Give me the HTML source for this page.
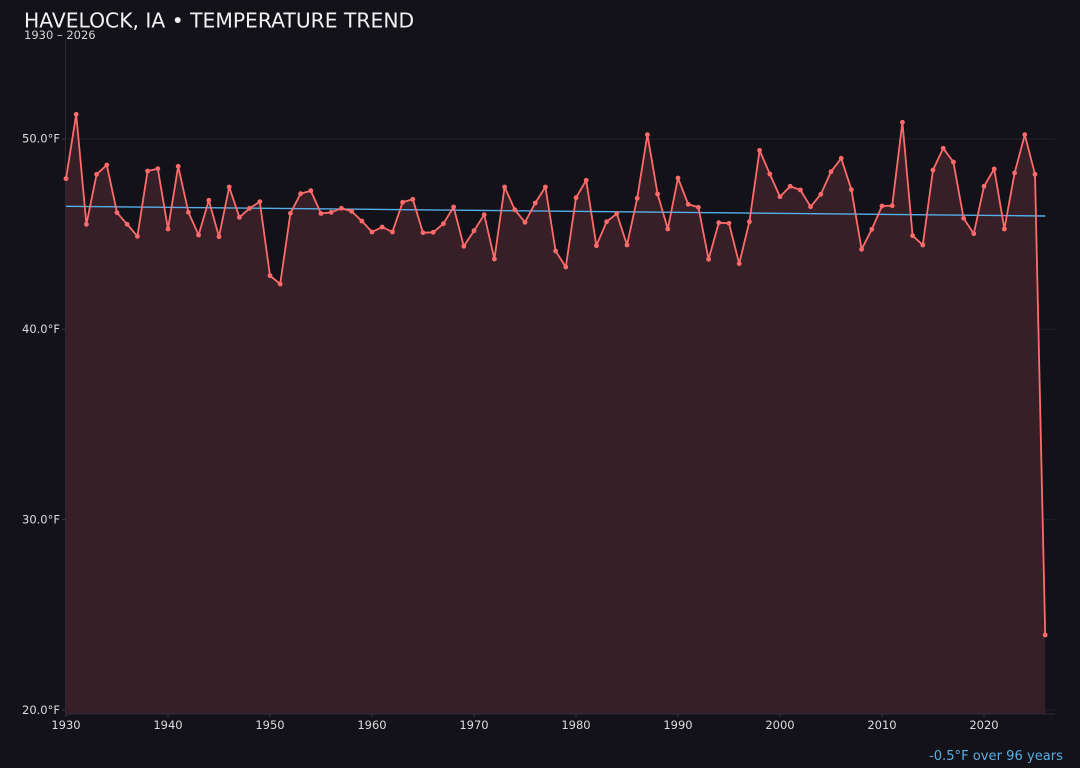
<!DOCTYPE html>
<html><head><meta charset="utf-8"><style>
html,body{margin:0;padding:0;background:#131218;}
svg{display:block;}
text{font-family:"DejaVu Sans","Liberation Sans",sans-serif;}
</style></head><body>
<svg width="1080" height="768" viewBox="0 0 1080 768" xmlns="http://www.w3.org/2000/svg">
<rect width="1080" height="768" fill="#131218"/>
<!-- grid -->
<g stroke="#22212a" stroke-width="1">
<line x1="65" y1="139" x2="1055" y2="139"/>
<line x1="65" y1="329.3" x2="1055" y2="329.3"/>
<line x1="65" y1="519.6" x2="1055" y2="519.6"/>
<line x1="65" y1="710" x2="1055" y2="710"/>
</g>
<!-- fill -->
<path fill="#361f26" d="M66,178.7 L76.2,114.3 L86.4,224.3 L96.6,174.3 L106.8,165 L117,212.7 L127.2,224.3 L137.4,236.3 L147.6,171 L157.8,168.7 L168,229 L178.2,166.3 L188.4,212.3 L198.6,235 L208.8,200.3 L219,236.7 L229.2,187 L239.4,217.3 L249.6,208.3 L259.8,201.7 L270,275.7 L280.2,284 L290.4,213.3 L300.6,193.7 L310.8,190.7 L321,213.5 L331.2,212.3 L341.4,208.3 L351.6,211.3 L361.8,221 L372,232 L382.2,227 L392.4,232 L402.6,202.3 L412.8,199.3 L423,232.7 L433.2,232.3 L443.4,223.7 L453.6,207 L463.8,246.3 L474,230.7 L484.2,214.7 L494.4,259 L504.6,187 L514.8,209.7 L525,222.3 L535.2,203 L545.4,187 L555.6,251 L565.8,267 L576,197.7 L586.2,180.3 L596.4,245.7 L606.6,221.7 L616.8,213.7 L627,245 L637.2,198.3 L647.4,134.7 L657.6,194 L667.8,229 L678,178 L688.2,204.3 L698.4,207.3 L708.6,259.3 L718.8,222.7 L729,223.3 L739.2,263.7 L749.4,221.7 L759.6,150.3 L769.8,174 L780,196.7 L790.2,186.3 L800.4,190 L810.6,206.7 L820.8,194.3 L831,171.7 L841.2,158.3 L851.4,189.7 L861.6,249.3 L871.8,229.3 L882,206 L892.2,205.7 L902.4,122.3 L912.6,235.7 L922.8,245 L933,170 L943.2,148.3 L953.4,162 L963.6,218.3 L973.8,233.7 L984,186.3 L994.2,169 L1004.4,229 L1014.6,173 L1024.8,134.7 L1035,174.3 L1045.2,635 L1045.2,714 L66,714 Z"/>
<!-- spines -->
<line x1="65.5" y1="40" x2="65.5" y2="714" stroke="#2a2a32" stroke-width="1"/>
<line x1="65" y1="714" x2="1055" y2="714" stroke="#2a2a32" stroke-width="1.2"/>
<!-- ticks -->
<g stroke="#3a3a44" stroke-width="1">
<line x1="62" y1="139" x2="65" y2="139"/><line x1="62" y1="329.3" x2="65" y2="329.3"/><line x1="62" y1="519.6" x2="65" y2="519.6"/><line x1="62" y1="710" x2="65" y2="710"/>
<line x1="66" y1="714" x2="66" y2="717"/><line x1="168" y1="714" x2="168" y2="717"/><line x1="270" y1="714" x2="270" y2="717"/><line x1="372" y1="714" x2="372" y2="717"/><line x1="474" y1="714" x2="474" y2="717"/><line x1="576" y1="714" x2="576" y2="717"/><line x1="678" y1="714" x2="678" y2="717"/><line x1="780" y1="714" x2="780" y2="717"/><line x1="882" y1="714" x2="882" y2="717"/><line x1="984" y1="714" x2="984" y2="717"/>
</g>
<!-- trend -->
<line x1="66" y1="206.3" x2="1045.2" y2="216" stroke="#56b0e8" stroke-width="1.4"/>
<!-- series line -->
<path fill="none" stroke="#ff6b6b" stroke-width="1.8" stroke-linejoin="round" d="M66,178.7 L76.2,114.3 L86.4,224.3 L96.6,174.3 L106.8,165 L117,212.7 L127.2,224.3 L137.4,236.3 L147.6,171 L157.8,168.7 L168,229 L178.2,166.3 L188.4,212.3 L198.6,235 L208.8,200.3 L219,236.7 L229.2,187 L239.4,217.3 L249.6,208.3 L259.8,201.7 L270,275.7 L280.2,284 L290.4,213.3 L300.6,193.7 L310.8,190.7 L321,213.5 L331.2,212.3 L341.4,208.3 L351.6,211.3 L361.8,221 L372,232 L382.2,227 L392.4,232 L402.6,202.3 L412.8,199.3 L423,232.7 L433.2,232.3 L443.4,223.7 L453.6,207 L463.8,246.3 L474,230.7 L484.2,214.7 L494.4,259 L504.6,187 L514.8,209.7 L525,222.3 L535.2,203 L545.4,187 L555.6,251 L565.8,267 L576,197.7 L586.2,180.3 L596.4,245.7 L606.6,221.7 L616.8,213.7 L627,245 L637.2,198.3 L647.4,134.7 L657.6,194 L667.8,229 L678,178 L688.2,204.3 L698.4,207.3 L708.6,259.3 L718.8,222.7 L729,223.3 L739.2,263.7 L749.4,221.7 L759.6,150.3 L769.8,174 L780,196.7 L790.2,186.3 L800.4,190 L810.6,206.7 L820.8,194.3 L831,171.7 L841.2,158.3 L851.4,189.7 L861.6,249.3 L871.8,229.3 L882,206 L892.2,205.7 L902.4,122.3 L912.6,235.7 L922.8,245 L933,170 L943.2,148.3 L953.4,162 L963.6,218.3 L973.8,233.7 L984,186.3 L994.2,169 L1004.4,229 L1014.6,173 L1024.8,134.7 L1035,174.3 L1045.2,635"/>
<!-- markers -->
<g fill="#ff6b6b">
<circle cx="66" cy="178.7" r="2.4"/><circle cx="76.2" cy="114.3" r="2.4"/><circle cx="86.4" cy="224.3" r="2.4"/><circle cx="96.6" cy="174.3" r="2.4"/><circle cx="106.8" cy="165" r="2.4"/><circle cx="117" cy="212.7" r="2.4"/><circle cx="127.2" cy="224.3" r="2.4"/><circle cx="137.4" cy="236.3" r="2.4"/><circle cx="147.6" cy="171" r="2.4"/><circle cx="157.8" cy="168.7" r="2.4"/>
<circle cx="168" cy="229" r="2.4"/><circle cx="178.2" cy="166.3" r="2.4"/><circle cx="188.4" cy="212.3" r="2.4"/><circle cx="198.6" cy="235" r="2.4"/><circle cx="208.8" cy="200.3" r="2.4"/><circle cx="219" cy="236.7" r="2.4"/><circle cx="229.2" cy="187" r="2.4"/><circle cx="239.4" cy="217.3" r="2.4"/><circle cx="249.6" cy="208.3" r="2.4"/><circle cx="259.8" cy="201.7" r="2.4"/>
<circle cx="270" cy="275.7" r="2.4"/><circle cx="280.2" cy="284" r="2.4"/><circle cx="290.4" cy="213.3" r="2.4"/><circle cx="300.6" cy="193.7" r="2.4"/><circle cx="310.8" cy="190.7" r="2.4"/><circle cx="321" cy="213.5" r="2.4"/><circle cx="331.2" cy="212.3" r="2.4"/><circle cx="341.4" cy="208.3" r="2.4"/><circle cx="351.6" cy="211.3" r="2.4"/><circle cx="361.8" cy="221" r="2.4"/>
<circle cx="372" cy="232" r="2.4"/><circle cx="382.2" cy="227" r="2.4"/><circle cx="392.4" cy="232" r="2.4"/><circle cx="402.6" cy="202.3" r="2.4"/><circle cx="412.8" cy="199.3" r="2.4"/><circle cx="423" cy="232.7" r="2.4"/><circle cx="433.2" cy="232.3" r="2.4"/><circle cx="443.4" cy="223.7" r="2.4"/><circle cx="453.6" cy="207" r="2.4"/><circle cx="463.8" cy="246.3" r="2.4"/>
<circle cx="474" cy="230.7" r="2.4"/><circle cx="484.2" cy="214.7" r="2.4"/><circle cx="494.4" cy="259" r="2.4"/><circle cx="504.6" cy="187" r="2.4"/><circle cx="514.8" cy="209.7" r="2.4"/><circle cx="525" cy="222.3" r="2.4"/><circle cx="535.2" cy="203" r="2.4"/><circle cx="545.4" cy="187" r="2.4"/><circle cx="555.6" cy="251" r="2.4"/><circle cx="565.8" cy="267" r="2.4"/>
<circle cx="576" cy="197.7" r="2.4"/><circle cx="586.2" cy="180.3" r="2.4"/><circle cx="596.4" cy="245.7" r="2.4"/><circle cx="606.6" cy="221.7" r="2.4"/><circle cx="616.8" cy="213.7" r="2.4"/><circle cx="627" cy="245" r="2.4"/><circle cx="637.2" cy="198.3" r="2.4"/><circle cx="647.4" cy="134.7" r="2.4"/><circle cx="657.6" cy="194" r="2.4"/><circle cx="667.8" cy="229" r="2.4"/>
<circle cx="678" cy="178" r="2.4"/><circle cx="688.2" cy="204.3" r="2.4"/><circle cx="698.4" cy="207.3" r="2.4"/><circle cx="708.6" cy="259.3" r="2.4"/><circle cx="718.8" cy="222.7" r="2.4"/><circle cx="729" cy="223.3" r="2.4"/><circle cx="739.2" cy="263.7" r="2.4"/><circle cx="749.4" cy="221.7" r="2.4"/><circle cx="759.6" cy="150.3" r="2.4"/><circle cx="769.8" cy="174" r="2.4"/>
<circle cx="780" cy="196.7" r="2.4"/><circle cx="790.2" cy="186.3" r="2.4"/><circle cx="800.4" cy="190" r="2.4"/><circle cx="810.6" cy="206.7" r="2.4"/><circle cx="820.8" cy="194.3" r="2.4"/><circle cx="831" cy="171.7" r="2.4"/><circle cx="841.2" cy="158.3" r="2.4"/><circle cx="851.4" cy="189.7" r="2.4"/><circle cx="861.6" cy="249.3" r="2.4"/><circle cx="871.8" cy="229.3" r="2.4"/>
<circle cx="882" cy="206" r="2.4"/><circle cx="892.2" cy="205.7" r="2.4"/><circle cx="902.4" cy="122.3" r="2.4"/><circle cx="912.6" cy="235.7" r="2.4"/><circle cx="922.8" cy="245" r="2.4"/><circle cx="933" cy="170" r="2.4"/><circle cx="943.2" cy="148.3" r="2.4"/><circle cx="953.4" cy="162" r="2.4"/><circle cx="963.6" cy="218.3" r="2.4"/><circle cx="973.8" cy="233.7" r="2.4"/>
<circle cx="984" cy="186.3" r="2.4"/><circle cx="994.2" cy="169" r="2.4"/><circle cx="1004.4" cy="229" r="2.4"/><circle cx="1014.6" cy="173" r="2.4"/><circle cx="1024.8" cy="134.7" r="2.4"/><circle cx="1035" cy="174.3" r="2.4"/><circle cx="1045.2" cy="635" r="2.4"/>
</g>
<!-- y labels -->
<g fill="#dcdce0" font-size="11.5" text-anchor="end">
<text x="60" y="142.5">50.0°F</text>
<text x="60" y="333">40.0°F</text>
<text x="60" y="523.5">30.0°F</text>
<text x="60" y="714">20.0°F</text>
</g>
<!-- x labels -->
<g fill="#dcdce0" font-size="11.5" text-anchor="middle">
<text x="66" y="729">1930</text><text x="168" y="729">1940</text><text x="270" y="729">1950</text><text x="372" y="729">1960</text><text x="474" y="729">1970</text><text x="576" y="729">1980</text><text x="678" y="729">1990</text><text x="780" y="729">2000</text><text x="882" y="729">2010</text><text x="984" y="729">2020</text>
</g>
<!-- titles -->
<text x="24" y="27.5" fill="#f2f2f4" font-size="20.3">HAVELOCK, IA • TEMPERATURE TREND</text>
<text x="24" y="39" fill="#d4d4d8" font-size="11.5">1930 – 2026</text>
<text x="1063" y="760" fill="#5aaee2" font-size="13.1" text-anchor="end">-0.5°F over 96 years</text>
</svg>
</body></html>
